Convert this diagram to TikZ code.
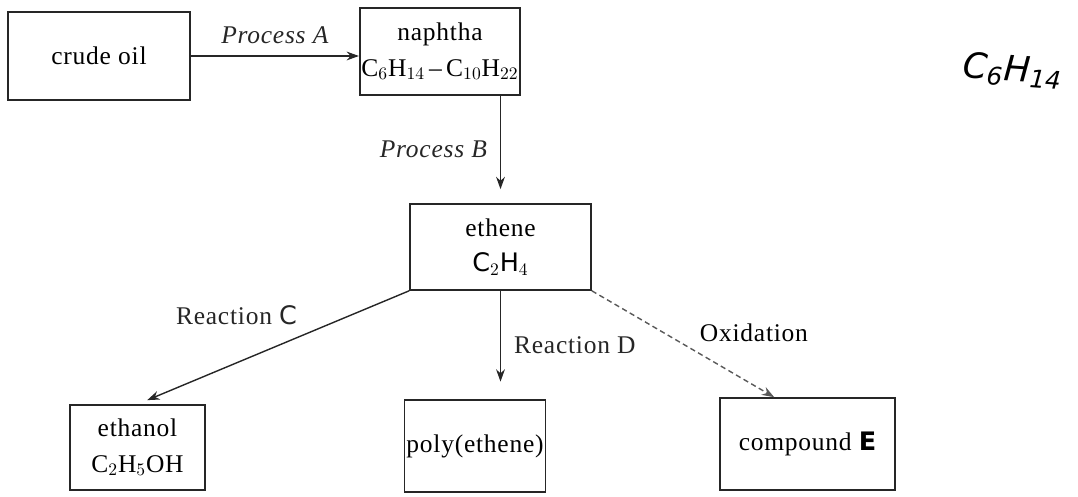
\documentclass[tikz,border=0pt]{standalone}
\usepackage{fontspec}
\setmainfont{Liberation Serif}[LetterSpace=3]
\setsansfont{DejaVu Sans}
\usepackage{tikz}
\usetikzlibrary{arrows.meta, positioning}

\begin{document}
\begin{tikzpicture}[
  every node/.style={font=\fontsize{14.5}{20}\selectfont},
  box/.style={rectangle, draw=black!85, line width=0.9pt, align=center,
              inner sep=1pt},
  flow/.style={-{Stealth[length=7pt, width=5pt]}, line width=0.8pt, color=black!85},
  oflow/.style={flow, densely dashed, color=black!65},
  lbl/.style={font=\fontsize{14.5}{18}\selectfont\itshape},
]
\useasboundingbox (0,0) rectangle (21.56,-9.94);

% Boxes
\node[box, minimum width=3.64cm, minimum height=1.76cm] (crude) at (1.98,-1.12) {crude oil};
\node[box, minimum width=3.12cm, minimum height=1.74cm] (naphtha) at (8.80,-1.03)
  {naphtha\\C$_6$H$_{14}$\,--\,C$_{10}$H$_{22}$};
\node[box, minimum width=3.62cm, minimum height=1.72cm] (ethene) at (10.01,-4.94)
  {ethene\\{\sffamily C$_2$H$_4$}};
\node[box, minimum width=2.70cm, minimum height=1.70cm] (ethanol) at (2.75,-8.95)
  {ethanol\\C$_2$H$_5$OH};
\node[box, minimum width=2.80cm, minimum height=1.84cm] (poly) at (9.50,-8.92) {poly(ethene)};
\node[box, minimum width=3.50cm, minimum height=1.84cm] (compE) at (16.15,-8.88)
  {compound {\sffamily\bfseries E}};

% Handwritten note
\node[font=\fontsize{20}{24}\sffamily\itshape, rotate=-4] (hexane) at (20.25,-1.42)
  {C\textsubscript{6}H\textsubscript{14}};

% Arrows
\draw[flow] (crude.east) -- node[lbl, above=3pt]{Process A} (naphtha.west |- crude.east);
\draw[flow, shorten >=8pt] (naphtha.south -| ethene.north) -- node[lbl, left=4pt]{Process B} (ethene.north);
\draw[flow, shorten >=6pt] (ethene.south west) -- node[pos=0.38, above left=2pt]{Reaction {\sffamily C}} (ethanol.north);
\draw[flow, shorten >=10pt] (ethene.south) -- node[right=4pt]{Reaction D} (ethene.south |- poly.north);
\draw[oflow] (ethene.south east) -- node[pos=0.55, above right=1pt, text=black]{Oxidation} ([xshift=1.1cm]compE.north west);

\end{tikzpicture}
\end{document}
